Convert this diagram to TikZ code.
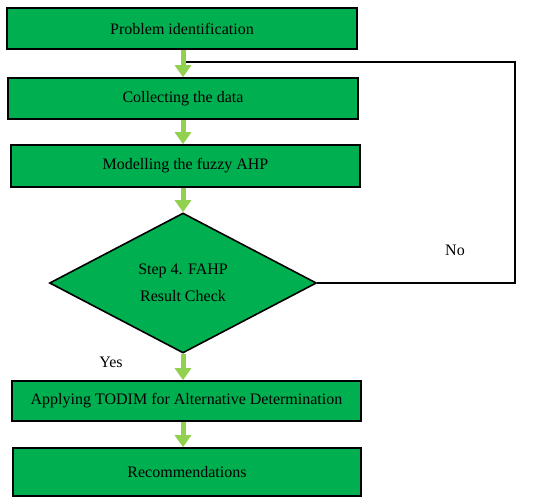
\documentclass[tikz,border=0pt]{standalone}
\usepackage{fontspec}
\setmainfont{Liberation Serif}
\usetikzlibrary{shapes.geometric,arrows.meta}
\definecolor{boxgreen}{RGB}{0,176,80}
\definecolor{arrgreen}{RGB}{146,208,80}
\begin{document}
\begin{tikzpicture}[x=1pt,y=-1pt,
  stepbox/.style={draw=black,line width=1.6pt,fill=boxgreen,inner sep=0pt,font=\fontsize{16}{18}\selectfont},
  flow/.style={draw=arrgreen,line width=5pt,-{Triangle[width=16pt,length=12pt]}},
  fb/.style={draw=black,line width=1.4pt}]
\useasboundingbox (0,0) rectangle (550,504);
\node[stepbox,minimum width=350pt,minimum height=41pt] (b1) at (182,28.5) {Problem identification};
\node[stepbox,minimum width=350pt,minimum height=41pt] (b2) at (183,98.5) {Collecting the data};
\node[stepbox,minimum width=349pt,minimum height=42pt] (b3) at (185.5,166) {Modelling the fuzzy AHP};
\node[stepbox,diamond,minimum width=267pt,minimum height=140pt,aspect=1.9,align=center,
  font=\fontsize{16}{27}\selectfont] (d) at (183,283) {Step 4. FAHP\\Result Check};
\node[stepbox,minimum width=349pt,minimum height=40pt] (b4) at (186.5,401) {Applying TODIM for Alternative Determination};
\node[stepbox,minimum width=348pt,minimum height=48pt] (b5) at (187,472) {Recommendations};
\node[font=\fontsize{16}{18}\selectfont] (yes) at (111,362) {Yes};
\node[font=\fontsize{16}{18}\selectfont] (no) at (455,250) {No};
\coordinate (c1) at (515,283);
\coordinate (c2) at (515,62);
\coordinate (c3) at (183,62);
\draw[fb] (d.east) -- (c1) -- (c2) -- (c3);
\draw[flow] (b1.south -| d.north) -- (b2.north -| d.north);
\draw[flow] (b2.south -| d.north) -- (b3.north -| d.north);
\draw[flow] (b3.south -| d.north) -- (d.north);
\draw[flow] (d.south) -- (b4.north -| d.south);
\draw[flow] (b4.south -| d.south) -- (b5.north -| d.south);
\end{tikzpicture}
\end{document}
